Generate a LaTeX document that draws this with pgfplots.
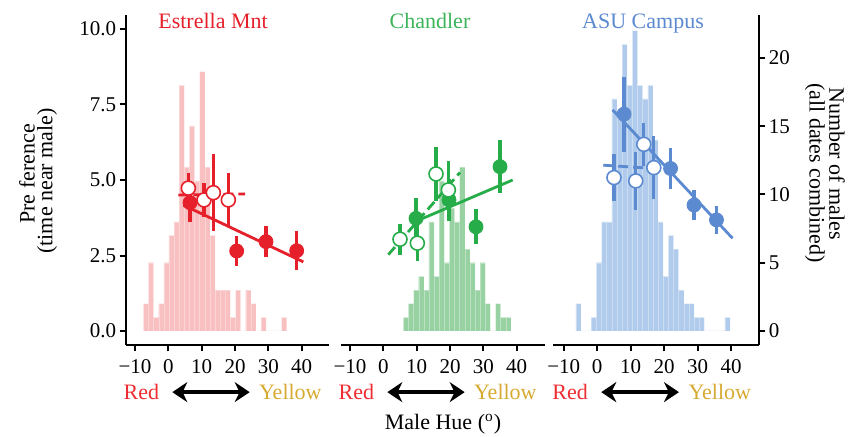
\documentclass[border=0pt]{standalone}
\usepackage{fontspec}
\setmainfont{Liberation Serif}
\usepackage{pgfplots}
\pgfplotsset{compat=1.18}
\usetikzlibrary{arrows.meta}

\definecolor{emred}{RGB}{230,32,42}
\definecolor{emhist}{RGB}{248,192,192}
\definecolor{chgreen}{RGB}{38,172,72}
\definecolor{chhist}{RGB}{152,210,162}
\definecolor{asublue}{RGB}{92,138,208}
\definecolor{asuhist}{RGB}{176,203,235}
\definecolor{redlab}{RGB}{238,45,50}
\definecolor{yellab}{RGB}{214,170,50}

\pgfplotsset{
  base/.style={
    scale only axis, height=165pt, anchor=south west, clip=false,
    axis line style={-, line width=1pt},
    tick style={line width=1pt, black}, major tick length=3.2pt, tick align=outside,
    ticklabel style={font=\fontsize{10.5}{12}\selectfont},
    yticklabel style={inner sep=1.5pt},
  },
  hist/.style={base, ymin=-1.026, ymax=23.15, axis x line=none},
  pref/.style={base, ymin=-0.46, ymax=10.46,
    axis x line*=bottom,
    xtick={-10,0,10,20,30,40}, xticklabels={−10,0,10,20,30,40},
    xticklabel style={inner sep=4pt},
  },
  fitline/.style={line width=1.4pt},
  dashfit/.style={line width=1.4pt, dash pattern=on 5pt off 2.5pt},
  filled/.style={only marks, mark=*, mark size=3.5pt, color=#1, line width=1.6pt,
    mark options={line width=0.4pt},
    error bars/.cd, y dir=both, y explicit, error mark=none,
    error bar style={line width=1.6pt, color=#1}},
  hollow/.style={only marks, mark=*, mark size=3.5pt, color=#1, line width=1.6pt,
    mark options={fill=white, draw=#1, line width=0.8pt},
    error bars/.cd, y dir=both, y explicit, error mark=none,
    error bar style={line width=1.6pt, color=#1}},
  histbar/.style={ybar interval, fill=#1, draw=white, draw opacity=0.35, line width=0.2pt},
}

\newcommand{\hueaxis}{%
  \node[text=redlab, font=\fontsize{11}{13}\selectfont] at (axis cs:-8.1,-2.0) {Red};
  \node[text=yellab, font=\fontsize{11}{13}\selectfont] at (axis cs:36.6,-2.0) {Yellow};
  \draw[line width=2pt, {Stealth[length=7.5pt,width=10pt]}-{Stealth[length=7.5pt,width=10pt]}]
    (axis cs:1.2,-2.02) -- (axis cs:24.4,-2.02);
}

\begin{document}
\begin{tikzpicture}
\useasboundingbox (0,0) rectangle (425pt,218.5pt);

% ---- Estrella Mnt ----
\begin{axis}[hist, at={(63pt,46pt)}, width=101.5pt, xmin=-12.7, xmax=48.2, axis y line=none]
\addplot[histbar=emhist] coordinates {
(-7.50,2) (-5.96,5) (-4.43,1) (-2.89,2) (-1.36,5) (0.18,7) (1.72,8) (3.25,18) (4.79,12)
(6.32,15) (7.86,11) (9.40,19) (10.93,12) (12.47,7) (14.00,3) (15.54,3) (17.08,3) (18.61,1)
(20.15,3) (21.68,0) (23.22,3) (24.76,2) (26.29,0) (27.83,1) (29.36,0) (30.90,0) (32.44,0)
(33.97,1) (35.51,0)};
\end{axis}
\begin{axis}[pref, at={(63pt,46pt)}, width=101.5pt, xmin=-12.7, xmax=48.2,
  axis y line*=left, ytick={0,2.5,5,7.5,10}, yticklabels={0.0,2.5,5.0,7.5,10.0}]
\addplot[fitline, emred] coordinates {(4.5,4.17) (40.5,2.29)};
\addplot[dashfit, emred] coordinates {(3.0,4.50) (23.0,4.54)};
\addplot[filled=emred] coordinates {
(6.5,4.25) +- (0,0.63) (20.5,2.65) +- (0,0.51) (29.3,2.96) +- (0,0.52) (38.5,2.66) +- (0,0.65)};
\addplot[hollow=emred] coordinates {
(6.0,4.73) +- (0,0.50) (10.7,4.34) +- (0,0.55) (13.5,4.58) +- (0,1.27) (18.0,4.34) +- (0,0.90)};
\hueaxis
\end{axis}

% ---- Chandler ----
\begin{axis}[hist, at={(170.5pt,46pt)}, width=102pt, xmin=-12.7, xmax=48.5, axis y line=none]
\addplot[histbar=chhist] coordinates {
(6.00,1) (7.54,2) (9.07,3) (10.61,4) (12.14,3) (13.68,8) (15.22,4) (16.75,11) (18.29,5)
(19.82,9) (21.36,8) (22.90,12) (24.43,6) (25.97,5) (27.50,3) (29.04,5) (30.58,2) (32.11,0)
(33.65,2) (35.18,1) (36.72,1) (38.26,0)};
\end{axis}
\begin{axis}[pref, at={(170.5pt,46pt)}, width=102pt, xmin=-12.7, xmax=48.5, axis y line=none]
\addplot[fitline, chgreen] coordinates {(9.5,3.62) (38.8,5.00)};
\addplot[dashfit, chgreen] coordinates {(1.5,2.53) (23.0,5.25)};
\addplot[filled=chgreen] coordinates {
(9.8,3.73) +- (0,0.66) (19.7,4.34) +- (0,0.70) (27.8,3.45) +- (0,0.58) (35.0,5.44) +- (0,0.88)};
\addplot[hollow=chgreen] coordinates {
(5.0,3.04) +- (0,0.52) (10.2,2.91) +- (0,0.60) (15.8,5.20) +- (0,0.90) (19.5,4.67) +- (0,0.95)};
\hueaxis
\end{axis}

% ---- ASU Campus ----
\begin{axis}[hist, at={(276.5pt,46pt)}, width=103pt, xmin=-13.2, xmax=48.3,
  axis y line*=right, ytick={0,5,10,15,20}, yticklabels={0,5,10,15,20}]
\addplot[histbar=asuhist] coordinates {
(-6.40,2) (-4.86,0) (-3.33,0) (-1.79,1) (-0.26,5) (1.28,8) (2.82,8) (4.35,17) (5.89,16)
(7.42,21) (8.96,18) (10.50,22) (12.03,18) (13.57,17) (15.10,18) (16.64,14) (18.18,8)
(19.71,4) (21.25,7) (22.78,6) (24.32,3) (25.86,2) (27.39,2) (28.93,1) (30.46,1) (32.00,0)
(33.54,0) (35.07,0) (36.61,0) (38.14,1) (39.68,0)};
\end{axis}
\begin{axis}[pref, at={(276.5pt,46pt)}, width=103pt, xmin=-13.2, xmax=48.3, axis y line=none]
\addplot[fitline, asublue] coordinates {(4.6,7.32) (40.4,3.07)};
\addplot[dashfit, asublue] coordinates {(1.8,5.49) (17.2,5.38)};
\addplot[filled=asublue] coordinates {
(8.0,7.18) +- (0,1.24) (21.9,5.38) +- (0,0.69) (28.9,4.17) +- (0,0.50) (35.6,3.68) +- (0,0.47)};
\addplot[hollow=asublue] coordinates {
(5.0,5.08) +- (0,0.78) (11.5,4.97) +- (0,0.97) (13.9,6.18) +- (0,0.72) (16.9,5.41) +- (0,1.05)};
\hueaxis
\end{axis}

% titles and axis labels
\begin{scope}[font=\fontsize{11}{13}\selectfont]
\node[anchor=base, text=emred] at (106.5pt,204pt) {Estrella Mnt};
\node[anchor=base, text=chgreen!90!white] at (215pt,204pt) {Chandler};
\node[anchor=base, text=asublue] at (321.5pt,204pt) {ASU Campus};
\node[rotate=90] at (13.5pt,131.5pt) {Pre ference};
\node[rotate=90] at (23.5pt,128pt) {(time near male)};
\node[rotate=-90] at (418.5pt,136.75pt) {Number of males};
\node[rotate=-90] at (407.5pt,132pt) {(all dates combined)};
\node at (221.5pt,6.5pt) {Male Hue (\textsuperscript{o})};
\end{scope}
\end{tikzpicture}
\end{document}
